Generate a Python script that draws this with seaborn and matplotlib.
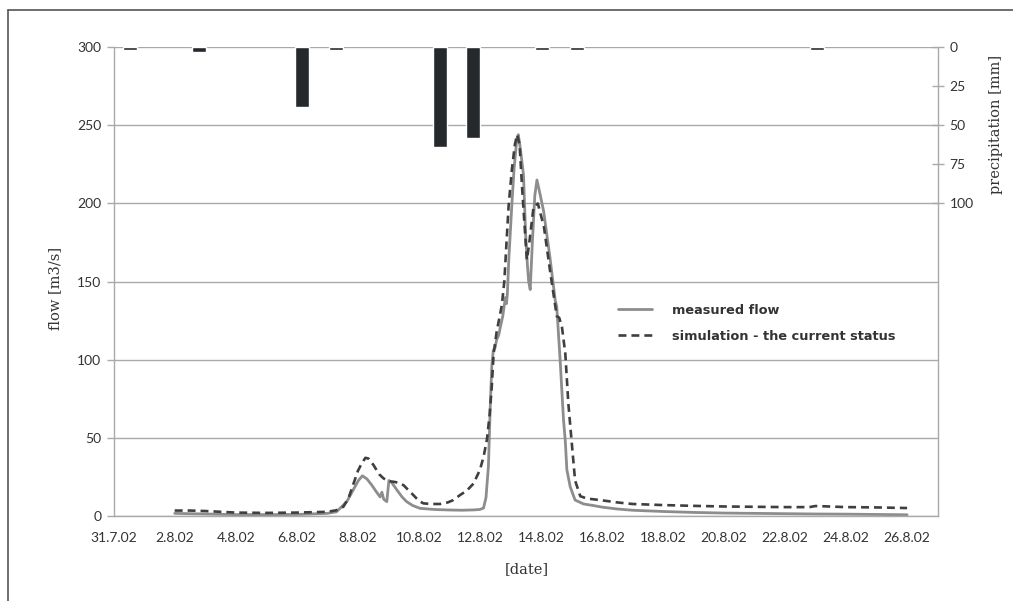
import matplotlib
matplotlib.use("Agg")
import matplotlib.pyplot as plt
import matplotlib.dates as mdates
from matplotlib.lines import Line2D
from matplotlib.ticker import FuncFormatter
import numpy as np
import pandas as pd
import seaborn as sns

# Times are given as fractional day of August 2002 (13.25 = 13 Aug, 06:00).
measured_aug_day = [
    2.0, 3.0, 4.0, 5.0, 6.0, 7.0, 7.3, 7.64, 7.85, 8.02, 8.15, 8.3, 8.46, 8.6,
    8.73, 8.79, 8.85, 8.95, 9.02, 9.1, 9.28, 9.45, 9.6, 9.8, 10.04, 10.5, 10.92,
    11.4, 11.79, 12.0, 12.12, 12.2, 12.28, 12.34, 12.39, 12.44, 12.5, 12.55,
    12.62, 12.67, 12.75, 12.8, 12.84, 12.87, 12.9, 12.95, 13.05, 13.12, 13.21,
    13.26, 13.32, 13.43, 13.5, 13.56, 13.6, 13.65, 13.72, 13.8, 13.87, 13.95,
    14.09, 14.3, 14.47, 14.52, 14.63, 14.74, 14.8, 14.85, 14.96, 15.12, 15.4,
    15.72, 16.0, 16.5, 17.0, 18.0, 19.0, 20.0, 21.0, 22.0, 23.0, 24.0, 25.0, 26.0,
]
measured_flow = [
    2.0, 1.6, 1.2, 1.2, 1.3, 2.0, 3.0, 9.5, 17, 23, 26, 24, 20, 16,
    12.5, 15.5, 11, 9.5, 23, 22, 17, 12.5, 9.5, 7, 5.2, 4.5, 4.2,
    4.0, 4.2, 4.5, 5.4, 12, 32, 70, 96, 106, 108, 113,
    116, 121, 128, 135, 140, 136, 142, 165, 200, 222, 241,
    244, 236, 218, 180, 160, 150, 145, 175, 205, 215, 208,
    195, 165, 138, 134, 100, 62, 48, 30, 19, 10.5, 8,
    7, 6, 4.8, 4.0, 3.2, 2.6, 2.2, 2.0, 1.8, 1.6, 1.5, 1.3, 1.1,
]

simulated_aug_day = [
    2.0, 2.5, 3.0, 3.5, 4.0, 5.0, 6.0, 7.0, 7.3, 7.53, 7.7, 7.86, 8.0, 8.13,
    8.25, 8.35, 8.51, 8.7, 8.84, 9.0, 9.17, 9.35, 9.5, 9.65, 9.82, 10.0, 10.15,
    10.4, 10.7, 10.95, 11.13, 11.35, 11.57, 11.79, 12.0, 12.12, 12.23, 12.32,
    12.39, 12.45, 12.55, 12.67, 12.72, 12.8, 12.94, 13.05, 13.15, 13.22, 13.3,
    13.4, 13.54, 13.62, 13.76, 13.9, 14.1, 14.3, 14.52, 14.6, 14.69, 14.8, 14.9,
    15.02, 15.12, 15.29, 15.5, 15.94, 16.5, 17.0, 18.0, 19.0, 20.0, 21.0, 22.0,
    22.8, 23.0, 23.3, 24.0, 25.0, 26.0,
]
simulated_flow = [
    3.8, 3.8, 3.5, 3.0, 2.5, 2.3, 2.5, 3.0, 4.0, 6.3, 12, 21, 29, 34,
    37.5, 37, 33, 27, 24.4, 22.5, 22.2, 21.5, 20, 17, 13.7, 10, 8.4,
    8, 8, 9, 10.5, 13.7, 16.5, 21, 29.7, 38, 49, 65,
    83, 104, 118, 130, 135, 150, 198, 222, 238, 244, 238,
    205, 164, 175, 198, 200, 185, 157, 128, 127, 121, 104, 72,
    45, 23, 13, 11.5, 10.5, 9, 8, 7.3, 6.8, 6.4, 6.2, 6.0,
    6.0, 6.7, 6.5, 6.0, 5.8, 5.4,
]

precip_aug_day = [0.52, 2.80, 6.17, 7.27, 10.68, 11.78, 14.04, 15.17, 23.06]
precip_mm = [2.0, 3.0, 38.5, 2.0, 63.8, 58.3, 2.0, 2.0, 2.2]

series_labels = ["measured flow", "simulation - the current status"]
flow_ticks = [0, 50, 100, 150, 200, 250, 300]
precip_ticks = [0, 25, 50, 75, 100]


def aug_time(days):
    return pd.Timestamp("2002-08-01") + pd.to_timedelta(np.asarray(days) - 1.0, unit="D")


measured = pd.DataFrame({"time": aug_time(measured_aug_day), "flow": measured_flow})
simulated = pd.DataFrame({"time": aug_time(simulated_aug_day), "flow": simulated_flow})
precip = pd.DataFrame({"time": aug_time(precip_aug_day), "mm": precip_mm})

sns.set_style("white")
plt.rcParams["font.family"] = ["Lato", "DejaVu Sans"]

fig = plt.figure(figsize=(10.13, 6.01), dpi=100)
ax = fig.add_axes([0.1122, 0.1406, 0.8134, 0.7812])

grid_col = "#a9a9a9"
text_col = "#333333"

sns.lineplot(data=measured, x="time", y="flow", ax=ax, color="#8d8d8d",
             linewidth=2.0, label=series_labels[0])
sns.lineplot(data=simulated, x="time", y="flow", ax=ax, color="#3f3f3f",
             linewidth=1.9, dashes=False, label=series_labels[1])
ax.lines[1].set_dashes([3.0, 1.9])

ax.set_xlim(pd.Timestamp("2002-07-31"), pd.Timestamp("2002-08-27"))
ax.set_ylim(0, 300)
ax.set_yticks(flow_ticks)
ax.yaxis.grid(True, color=grid_col, linewidth=1.0)
ax.xaxis.grid(False)
ax.set_axisbelow(True)

tick_dates = pd.date_range("2002-07-31", "2002-08-26", freq="2D")
ax.set_xticks(tick_dates)
ax.xaxis.set_major_formatter(FuncFormatter(
    lambda v, pos: (lambda d: f"{d.day}.{d.month}.{d.strftime('%y')}")(mdates.num2date(v))))

for side in ["left", "bottom"]:
    ax.spines[side].set_color(grid_col)
    ax.spines[side].set_linewidth(1.0)
ax.spines["top"].set_visible(False)
ax.spines["right"].set_visible(False)

ax.tick_params(axis="both", which="major", length=5, width=1.0, color=grid_col,
               labelsize=10, labelcolor=text_col, direction="out", pad=4)
ax.tick_params(axis="x", pad=6)

ax.set_xlabel("[date]", family="DejaVu Serif", fontsize=10.5, color=text_col)
ax.set_ylabel("flow [m3/s]", family="DejaVu Serif", fontsize=10.5, color=text_col)
ax.xaxis.set_label_coords(0.5016, -0.098)
ax.yaxis.set_label_coords(-0.063, 0.485)

# Precipitation hangs from the top on an inverted secondary axis
ax2 = ax.twinx()
ax2.bar(precip["time"], precip["mm"], width=0.46, color="#26292c", zorder=3)
ax2.set_ylim(300, 0)
ax2.set_yticks(precip_ticks)
ax2.spines["right"].set_color(grid_col)
ax2.spines["right"].set_linewidth(1.0)
for side in ["top", "left", "bottom"]:
    ax2.spines[side].set_visible(False)
ax2.tick_params(axis="y", length=9, width=1.0, color=grid_col, direction="inout",
                labelsize=10, labelcolor=text_col, pad=4)
ax2.set_ylabel("precipitation [mm]", family="DejaVu Serif", fontsize=10.5,
               color=text_col)
ax2.yaxis.set_label_coords(1.062, 0.834)

ax.get_legend().remove()
handles = ax.lines[:2]
leg = ax.legend(handles, series_labels, loc="upper left",
                bbox_to_anchor=(0.598, 0.478), frameon=False, handlelength=2.6,
                handletextpad=1.6, labelspacing=1.0,
                prop={"family": "DejaVu Sans", "weight": "bold", "size": 9.3})
for t in leg.get_texts():
    t.set_color("#333333")

# Outer frame edges of the figure panel
fig.add_artist(Line2D([8 / 1013, 8 / 1013], [0, 1 - 10 / 601], transform=fig.transFigure,
                      color="#555555", linewidth=1.2))
fig.add_artist(Line2D([8 / 1013, 1], [1 - 10 / 601, 1 - 10 / 601], transform=fig.transFigure,
                      color="#555555", linewidth=1.2))

fig.savefig("out.png", dpi=100)
